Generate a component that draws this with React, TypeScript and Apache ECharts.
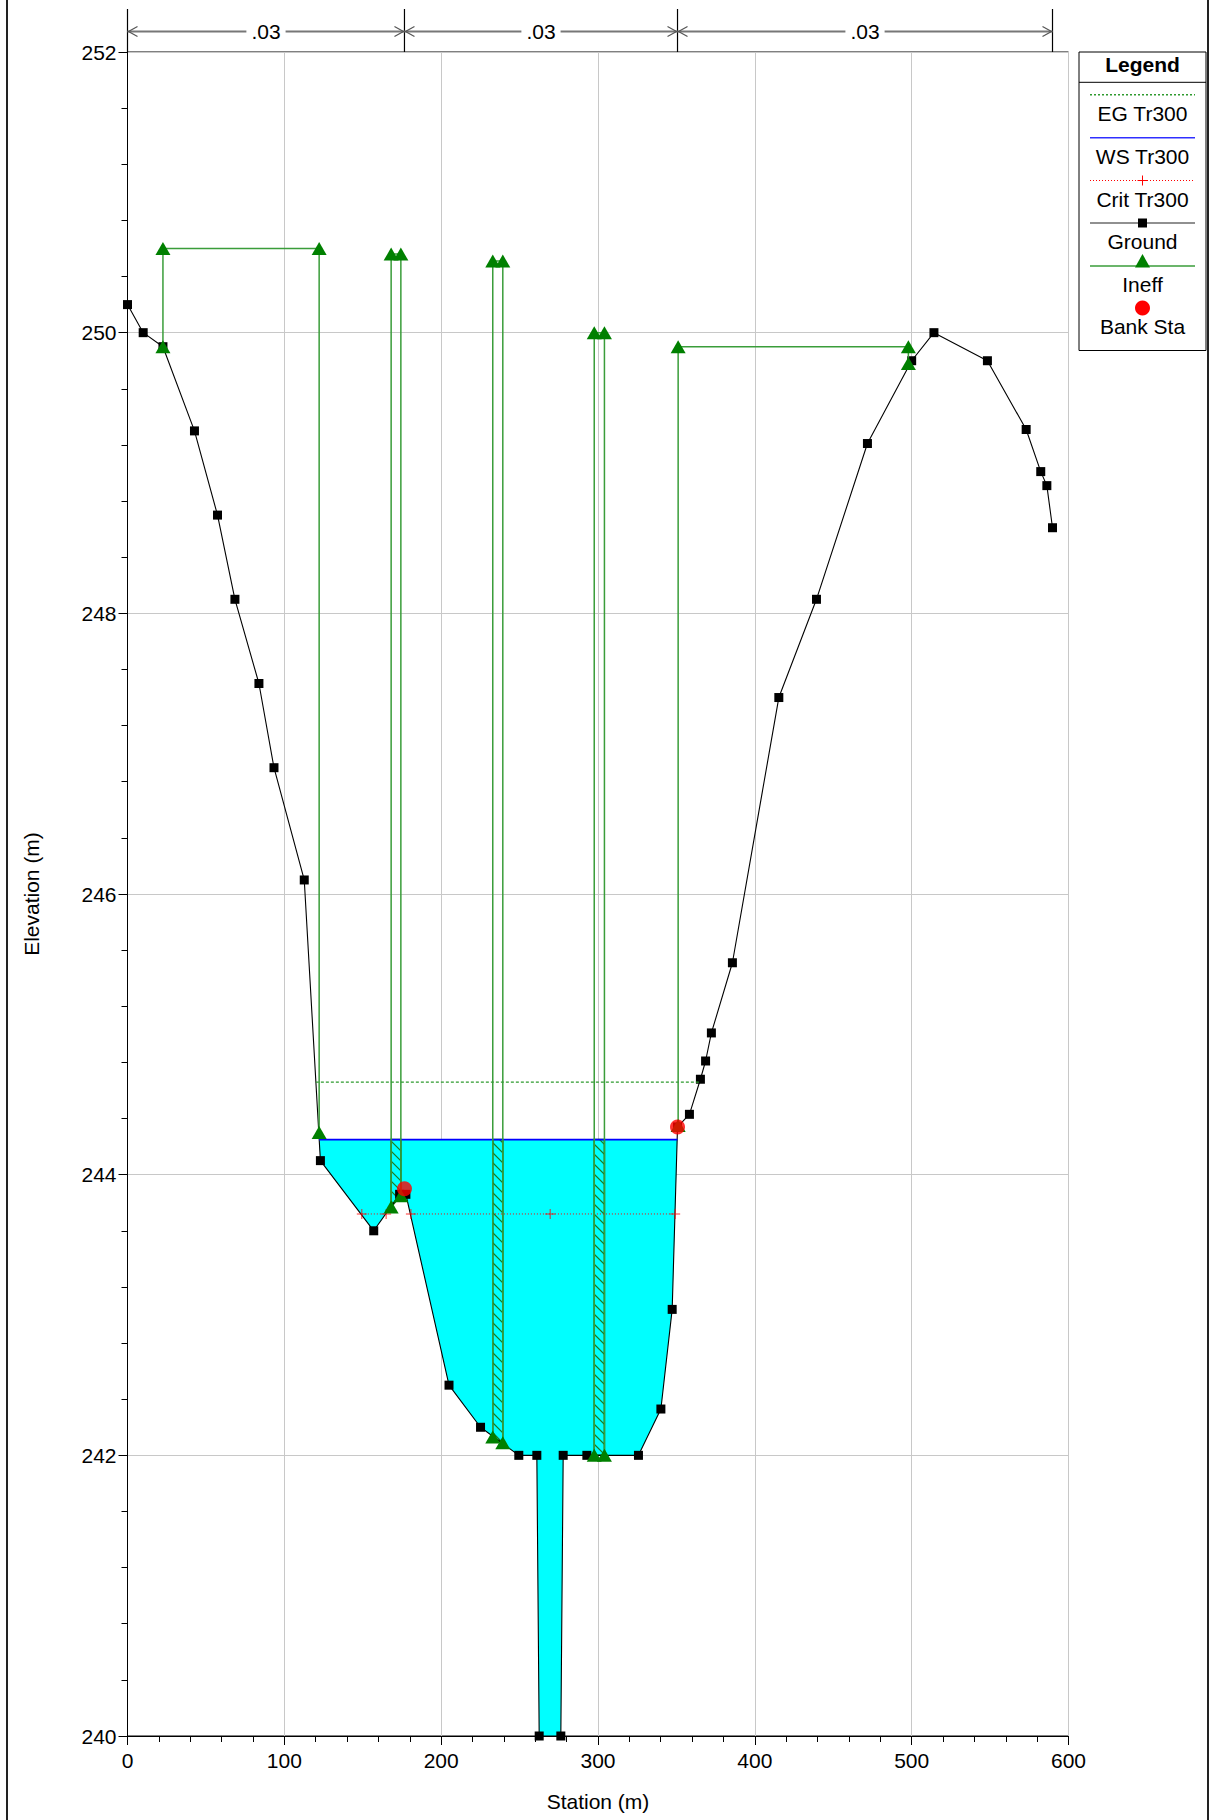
import React, { useEffect, useRef } from "react";
import * as echarts from "echarts";

// ---------------- data ----------------
const groundStation = [0, 10, 22.6, 42.7, 57.4, 68.5, 83.8, 93.4, 112.7, 123, 157, 173.5, 177.5, 205, 225.1, 249.5, 261, 262.5, 276.3, 277.8, 292.9, 325.8, 340.1, 347.3, 350.7, 358.3, 365.3, 368.6, 372.3, 385.7, 415.3, 439.3, 471.8, 500, 514.2, 548.3, 573, 582.3, 586.2, 589.8];
const groundElev = [250.2, 250.0, 249.9, 249.3, 248.7, 248.1, 247.5, 246.9, 246.1, 244.1, 243.6, 243.86, 243.86, 242.5, 242.2, 242.0, 242.0, 240.0, 240.0, 242.0, 242.0, 242.0, 242.33, 243.04, 244.34, 244.43, 244.68, 244.81, 245.01, 245.51, 247.4, 248.1, 249.21, 249.8, 250.0, 249.8, 249.31, 249.01, 248.91, 248.61];

const wsElev = 244.25;
const wsStations = [122.2, 350.6];
const egElev = 244.66;
const egStations = [120.1, 364.6];
const critElev = 243.72;
const critSegStart = [149.4, 180.7];
const critSegEnd = [164.9, 349.2];
const critMarkers = [149.4, 164.9, 180.7, 269.5, 349.2];
const bankStations = [176.6, 350.7];
const bankElev = [243.9, 244.34];

const ineffLeft = [22.6, 168.1, 232.9, 297.6, 351.1];
const ineffRight = [122.2, 174.3, 239.3, 304.1, 497.9];
const ineffTop = [250.6, 250.56, 250.51, 250.0, 249.9];
const ineffGroundLeft = [249.9, 243.77, 242.13, 242.0, 244.35];
const ineffGroundRight = [244.3, 243.85, 242.09, 242.0, 249.78];
const hatchedIneff = [1, 2, 3];

const nBreaks = [0, 176.6, 350.7, 589.8];
const nValues = [".03", ".03", ".03"];

const legendItems = ["EG Tr300", "WS Tr300", "Crit Tr300", "Ground", "Ineff", "Bank Sta"];

const FONT = "'Liberation Sans', Arial, Helvetica, sans-serif";
const PLUS = "path://M4.5,0h1v4.5h4.5v1h-4.5v4.5h-1v-4.5h-4.5v-1h4.5z";

export default function App() {
  const ref = useRef<HTMLDivElement>(null);
  useEffect(() => {
    const chart = echarts.init(ref.current!, undefined, { renderer: "svg" });
    const groundData = groundStation.map((s, i) => [s, groundElev[i]]);
    const waterPoly = [
      [wsStations[0], wsElev],
      ...groundData.filter((p) => p[0] > wsStations[0] && p[0] < wsStations[1]),
      [wsStations[1], wsElev],
    ];
    const hatchData = hatchedIneff.map((i) => [ineffLeft[i], ineffRight[i], ineffGroundLeft[i], ineffGroundRight[i]]);

    const ineffSeries = ineffLeft.map((l, i) => ({
      type: "line",
      name: "Ineff",
      z: 6,
      data: [
        [l, ineffGroundLeft[i]],
        [l, ineffTop[i]],
        [ineffRight[i], ineffTop[i]],
        [ineffRight[i], ineffGroundRight[i]],
      ],
      symbol: "triangle",
      symbolSize: [15, 13],
      itemStyle: { color: "#008000" },
      lineStyle: { color: "#3a9d3a", width: 1.5 },
    }));

    const critSeries = critSegStart.map((s, i) => ({
      type: "line",
      name: "Crit Tr300",
      z: 4,
      showSymbol: false,
      data: [
        [s, critElev],
        [critSegEnd[i], critElev],
      ],
      lineStyle: { color: "#ff0000", width: 1, type: [1, 2] },
    }));

    const axisCommon = {
      axisLine: { show: true, lineStyle: { color: "#000", width: 1 } },
      axisTick: { show: true, inside: false, length: 9, lineStyle: { color: "#000" } },
      minorTick: { show: true, splitNumber: 5, length: 6, lineStyle: { color: "#000" } },
      splitLine: { show: true, lineStyle: { color: "#c8c8c8", width: 1 } },
      nameTextStyle: { fontSize: 21, color: "#000", fontFamily: FONT },
    };

    chart.setOption({
      animation: false,
      backgroundColor: "#fff",
      grid: { left: 127.5, right: 147.5, top: 52, bottom: 84, show: true, borderColor: "#000", borderWidth: 1 },
      xAxis: {
        type: "value",
        min: 0,
        max: 600,
        interval: 100,
        name: "Station (m)",
        nameLocation: "middle",
        nameGap: 55,
        axisLabel: { fontSize: 21, color: "#000", fontFamily: FONT, margin: 14 },
        ...axisCommon,
      },
      yAxis: {
        type: "value",
        min: 240,
        max: 252,
        interval: 2,
        name: "Elevation (m)",
        nameLocation: "middle",
        nameGap: 86,
        axisLabel: { fontSize: 21, color: "#000", fontFamily: FONT, margin: 11 },
        ...axisCommon,
      },
      series: [
        {
          type: "custom",
          name: "water",
          z: 1,
          data: waterPoly,
          encode: { x: 0, y: 1 },
          renderItem: (params: any, api: any) => {
            if (params.dataIndex !== 0) return null;
            const pts = waterPoly.map((p) => api.coord(p));
            return { type: "polygon", shape: { points: pts }, style: { fill: "#00ffff" } };
          },
        },
        {
          type: "custom",
          name: "hatch",
          z: 2,
          data: hatchData,
          encode: { x: [0, 1], y: [2, 3] },
          renderItem: (params: any, api: any) => {
            const l = api.value(0), r = api.value(1), gl = api.value(2), gr = api.value(3);
            const pTL = api.coord([l, wsElev]);
            const pTR = api.coord([r, wsElev]);
            const pBL = api.coord([l, gl]);
            const pBR = api.coord([r, gr]);
            const L = pTL[0], R = pTR[0], T = pTL[1], Bl = pBL[1], Br = pBR[1];
            const k = (Br - Bl) / (R - L);
            const step = 10;
            const children: any[] = [];
            const cStart = Math.floor((T - R) / step) * step;
            for (let c = cStart; c <= Math.max(Bl, Br) - L; c += step) {
              const x1 = Math.max(L, T - c);
              const x2 = Math.min(R, (Bl - k * L - c) / (1 - k));
              if (x2 > x1) {
                children.push({ type: "line", shape: { x1, y1: x1 + c, x2, y2: x2 + c }, style: { stroke: "#1f7a1f", lineWidth: 1.2 } });
              }
            }
            children.push({
              type: "polygon",
              shape: { points: [[L, T], [R, T], [R, Br], [L, Bl]] },
              style: { fill: "none", stroke: "#0b6b0b", lineWidth: 1.5 },
            });
            return { type: "group", children };
          },
        },
        {
          type: "line",
          name: "Ground",
          z: 3,
          data: groundData,
          symbol: "rect",
          symbolSize: 9,
          itemStyle: { color: "#000" },
          lineStyle: { color: "#000", width: 1.1 },
        },
        {
          type: "line",
          name: "EG Tr300",
          z: 4,
          showSymbol: false,
          data: egStations.map((s) => [s, egElev]),
          lineStyle: { color: "#2e9a2e", width: 1.2, type: [3, 2] },
        },
        ...critSeries,
        {
          type: "scatter",
          name: "Crit markers",
          z: 4,
          data: critMarkers.map((s) => [s, critElev]),
          symbol: PLUS,
          symbolSize: 10,
          itemStyle: { color: "#ff0000" },
        },
        {
          type: "line",
          name: "WS Tr300",
          z: 5,
          showSymbol: false,
          data: wsStations.map((s) => [s, wsElev]),
          lineStyle: { color: "#0000ff", width: 1.6 },
        },
        ...ineffSeries,
        {
          type: "scatter",
          name: "Bank Sta",
          z: 7,
          data: bankStations.map((s, i) => [s, bankElev[i]]),
          symbol: "circle",
          symbolSize: 15,
          itemStyle: { color: "#ff0000" },
        },
      ],
    });

    // ---------- graphic overlays: n-value bar, frame, legend ----------
    const px = (x: number, y: number) => chart.convertToPixel({ gridIndex: 0 }, [x, y]) as number[];
    const topY = px(0, 252)[1];
    const arrowY = 31.5;
    const g: any[] = [];
    const gray = "#777";
    g.push({ type: "line", shape: { x1: 7, y1: 0, x2: 7, y2: 1820 }, style: { stroke: "#222", lineWidth: 2 } });
    g.push({ type: "line", shape: { x1: 1208, y1: 0, x2: 1208, y2: 1820 }, style: { stroke: "#222", lineWidth: 2 } });
    nBreaks.forEach((b) => {
      const x = px(b, 252)[0];
      g.push({ type: "line", shape: { x1: x, y1: 9, x2: x, y2: topY }, style: { stroke: "#000", lineWidth: 1.2 } });
    });
    nValues.forEach((v, i) => {
      const xa = px(nBreaks[i], 252)[0];
      const xb = px(nBreaks[i + 1], 252)[0];
      g.push({ type: "line", shape: { x1: xa, y1: arrowY, x2: xb, y2: arrowY }, style: { stroke: gray, lineWidth: 2 } });
      g.push({ type: "polyline", shape: { points: [[xa + 10, arrowY - 5], [xa + 1, arrowY], [xa + 10, arrowY + 5]] }, style: { stroke: "#555", fill: "none", lineWidth: 1.2 } });
      g.push({ type: "polyline", shape: { points: [[xb - 10, arrowY - 5], [xb - 1, arrowY], [xb - 10, arrowY + 5]] }, style: { stroke: "#555", fill: "none", lineWidth: 1.2 } });
      g.push({
        type: "text",
        x: (xa + xb) / 2,
        y: arrowY,
        style: { text: v, fill: "#000", font: `21px ${FONT}`, align: "center", verticalAlign: "middle", backgroundColor: "#fff", padding: [0, 5] },
      });
    });
    // legend
    const lx = 1079, ly = 52, lw = 127, lh = 298.5;
    const cx = lx + lw / 2;
    g.push({ type: "rect", shape: { x: lx, y: ly, width: lw, height: lh }, style: { fill: "#fff", stroke: "#000", lineWidth: 1 } });
    g.push({ type: "line", shape: { x1: lx, y1: 82.3, x2: lx + lw, y2: 82.3 }, style: { stroke: "#000", lineWidth: 1 } });
    g.push({ type: "text", x: cx, y: 64.5, style: { text: "Legend", fill: "#000", font: `bold 21px ${FONT}`, align: "center", verticalAlign: "middle" } });
    const itemLineY = [94.7, 137.7, 180.5, 223, 266, 308];
    const itemTextY = [113.5, 156.5, 199, 241.5, 284.5, 326.5];
    legendItems.forEach((t, i) => {
      g.push({ type: "text", x: cx, y: itemTextY[i], style: { text: t, fill: "#000", font: `21px ${FONT}`, align: "center", verticalAlign: "middle" } });
    });
    const l1 = 1090, l2 = 1195;
    g.push({ type: "line", shape: { x1: l1, y1: itemLineY[0], x2: l2, y2: itemLineY[0] }, style: { stroke: "#2e9a2e", lineWidth: 1.5, lineDash: [2, 2] } });
    g.push({ type: "line", shape: { x1: l1, y1: itemLineY[1], x2: l2, y2: itemLineY[1] }, style: { stroke: "#3030ff", lineWidth: 1.5 } });
    g.push({ type: "line", shape: { x1: l1, y1: itemLineY[2], x2: l2, y2: itemLineY[2] }, style: { stroke: "#ff0000", lineWidth: 1, lineDash: [1, 2] } });
    g.push({ type: "line", shape: { x1: cx, y1: itemLineY[2] - 5, x2: cx, y2: itemLineY[2] + 5 }, style: { stroke: "#ff0000", lineWidth: 1 } });
    g.push({ type: "line", shape: { x1: cx - 5, y1: itemLineY[2], x2: cx + 5, y2: itemLineY[2] }, style: { stroke: "#ff0000", lineWidth: 1 } });
    g.push({ type: "line", shape: { x1: l1, y1: itemLineY[3], x2: l2, y2: itemLineY[3] }, style: { stroke: "#222", lineWidth: 1.2 } });
    g.push({ type: "rect", shape: { x: cx - 4.5, y: itemLineY[3] - 4.5, width: 9, height: 9 }, style: { fill: "#000" } });
    g.push({ type: "line", shape: { x1: l1, y1: itemLineY[4], x2: l2, y2: itemLineY[4] }, style: { stroke: "#3a9d3a", lineWidth: 1.5 } });
    g.push({ type: "polygon", shape: { points: [[cx, itemLineY[4] - 12], [cx - 7.5, itemLineY[4] + 1.5], [cx + 7.5, itemLineY[4] + 1.5]] }, style: { fill: "#008000" } });
    g.push({ type: "circle", shape: { cx, cy: itemLineY[5], r: 7.5 }, style: { fill: "#ff0000" } });

    chart.setOption({ graphic: g.map((e) => ({ ...e, z: 100 })) });

    return () => chart.dispose();
  }, []);
  return <div ref={ref} style={{ position: "absolute", left: 0, top: 0, width: 1216, height: 1820, background: "#fff" }} />;
}
